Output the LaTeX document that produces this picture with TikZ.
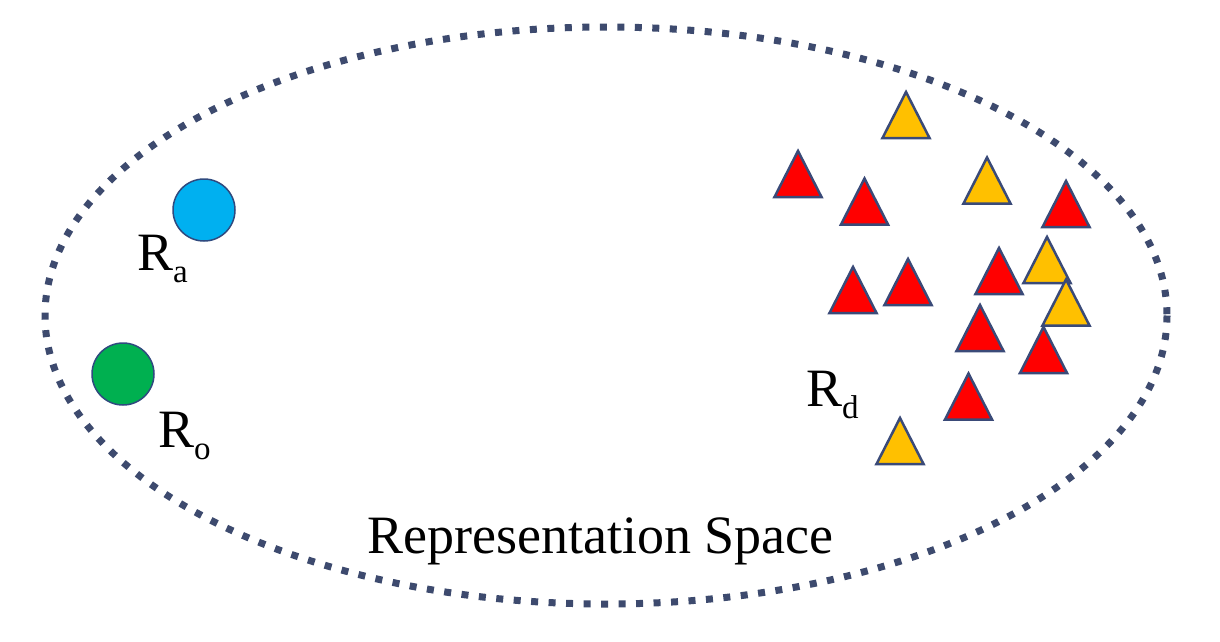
\documentclass[tikz,border=0pt]{standalone}
\usepackage{fontspec}
\setmainfont{Liberation Serif}
\definecolor{dotc}{HTML}{3D4A6E}
\definecolor{edgec}{HTML}{2F4A7F}
\definecolor{triedge}{HTML}{3A4A78}
\definecolor{cblue}{HTML}{00B0F0}
\definecolor{cgreen}{HTML}{00B050}
\definecolor{tred}{HTML}{FF0000}
\definecolor{tyel}{HTML}{FFC000}
\tikzset{
  space/.style={draw=dotc, line width=7pt, dash pattern=on 7pt off 10.5pt},
  pt/.style={circle, draw=edgec, line width=1.5pt, minimum size=62pt, inner sep=0pt},
  lbl/.style={anchor=base west, inner sep=0pt, font=\fontsize{54}{54}\selectfont},
  tri/.style={draw=triedge, line width=2.5pt, line join=miter},
  redtri/.style={tri, fill=tred},
  yeltri/.style={tri, fill=tyel}
}
\newcommand{\subs}[1]{{\fontsize{33}{33}\selectfont\raisebox{-12pt}{#1}}}
\newcommand{\tri}[3]{\path[#1] (#2-23.5,#3+46) -- (#2,#3) -- (#2+23.5,#3+46) -- cycle;}
\begin{document}
\begin{tikzpicture}[x=1pt,y=-1pt]
\useasboundingbox (0,0) rectangle (1220,641);
\fill[white] (0,0) rectangle (1220,641);
\draw[space] (606,315.5) ellipse [x radius=561, y radius=288.5];
\node[pt, fill=cblue] (ra) at (204,210) {};
\node[pt, fill=cgreen] (ro) at (123,374) {};
\node[lbl] (lra) at (137,270) {R\subs{a}};
\node[lbl] (lro) at (158,447) {R\subs{o}};
\node[lbl] (lrd) at (806,406) {R\subs{d}};
\node[lbl] (title) at (367,553) {Representation Space};
\tri{yeltri}{906}{92}
\tri{redtri}{798}{151}
\tri{redtri}{864.5}{178.5}
\tri{yeltri}{987}{157.5}
\tri{redtri}{1066}{181}
\tri{yeltri}{1047}{237}
\tri{redtri}{999}{248}
\tri{redtri}{853}{267}
\tri{redtri}{908}{259}
\tri{yeltri}{1066}{279.5}
\tri{redtri}{980}{305}
\tri{redtri}{1043.5}{327}
\tri{redtri}{968.5}{373.5}
\tri{yeltri}{900}{418}
\end{tikzpicture}
\end{document}
